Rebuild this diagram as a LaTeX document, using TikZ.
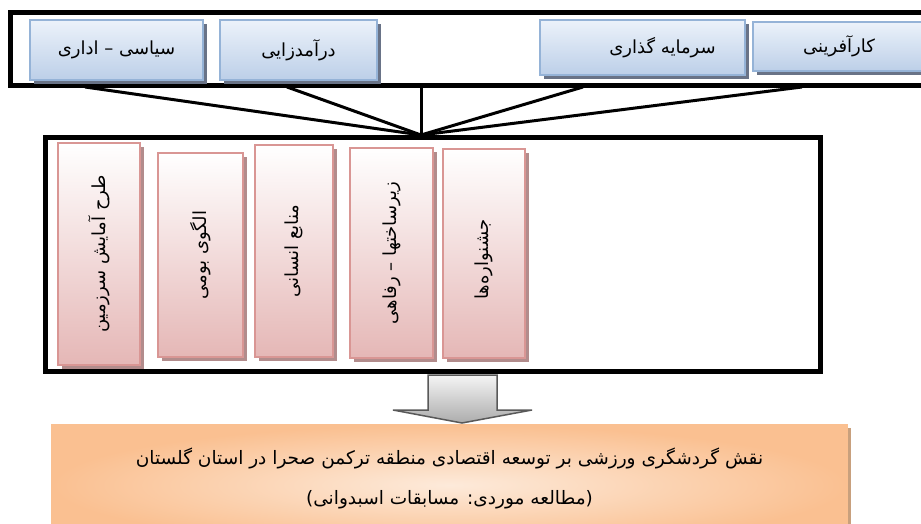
\documentclass[tikz,border=0pt]{standalone}
\usepackage{fontspec}
\newfontfamily\fa[Script=Arabic]{DejaVu Sans}
\TeXXeTstate=1
\usetikzlibrary{shadows}
\definecolor{blueedge}{RGB}{149,179,215}
\definecolor{bluetop}{RGB}{236,242,250}
\definecolor{bluebot}{RGB}{188,207,232}
\definecolor{blueshade}{RGB}{105,115,135}
\definecolor{pinkedge}{RGB}{217,150,148}
\definecolor{pinkbot}{RGB}{229,183,182}
\definecolor{pinkshade}{RGB}{178,140,140}
\definecolor{peach}{RGB}{250,192,145}
\definecolor{peachlight}{RGB}{253,234,218}
\definecolor{peachshade}{RGB}{200,160,125}
\tikzset{
  frame/.style={draw=black,line width=5pt},
  link/.style={draw=black,line width=3pt},
  bluebox/.style={draw=blueedge,line width=1.5pt,top color=bluetop,bottom color=bluebot,
    drop shadow={shadow xshift=4pt,shadow yshift=-4pt,fill=blueshade,opacity=1},
    inner sep=0pt,font=\fa\fontsize{18}{21}\selectfont},
  pinkbox/.style={draw=pinkedge,line width=1.5pt,top color=white,bottom color=pinkbot,
    drop shadow={shadow xshift=4pt,shadow yshift=-4pt,fill=pinkshade,opacity=1},
    inner sep=0pt},
  vtext/.style={rotate=90,font=\fa\fontsize{18}{21}\selectfont},
  goalbox/.style={draw=peach,line width=1.5pt,inner color=peachlight,outer color=peach,
    drop shadow={shadow xshift=4pt,shadow yshift=-3pt,fill=peachshade,opacity=1},
    inner sep=0pt}
}
\begin{document}
\begin{tikzpicture}[x=1pt,y=-1pt]
  \useasboundingbox (0,0) rectangle (921,524);
  \fill[white] (0,0) rectangle (921,524);
  \draw[frame] (10.5,12.5) rectangle (935,85.5);
  \node[bluebox,minimum width=173pt,minimum height=60pt] (siasi) at (116.5,50) {\beginR سیاسی – اداری\endR};
  \node[bluebox,minimum width=157pt,minimum height=60pt] (daramad) at (298.5,50) {\beginR درآمدزایی\endR};
  \node[bluebox,minimum width=205pt,minimum height=55pt] (sarmaye) at (642.5,47.5) {\hspace{40pt}\beginR سرمایه گذاری\endR};
  \node[bluebox,minimum width=172pt,minimum height=49pt] (kar) at (839,46.5) {\beginR کارآفرینی\endR};
  \coordinate (hub) at (421,135);
  \coordinate (a) at (85,87);
  \coordinate (b) at (287,87);
  \coordinate (c) at (421,87);
  \coordinate (d) at (583,87);
  \coordinate (e) at (802,87);
  \begin{scope}[link]
    \draw (a) -- (hub);
    \draw (b) -- (hub);
    \draw (c) -- (hub);
    \draw (d) -- (hub);
    \draw (e) -- (hub);
  \end{scope}
  \draw[frame] (45.5,137.5) rectangle (820,371.5);
  \node[pinkbox,minimum width=82pt,minimum height=222pt] (p1) at (99,254) {};
  \node[pinkbox,minimum width=85pt,minimum height=204pt] (p2) at (200.5,255) {};
  \node[pinkbox,minimum width=78pt,minimum height=212pt] (p3) at (294,251) {};
  \node[pinkbox,minimum width=83pt,minimum height=210pt] (p4) at (391.5,253) {};
  \node[pinkbox,minimum width=82pt,minimum height=209pt] (p5) at (484,253.5) {};
  \node[vtext] (t1) at (p1) {\beginR طرح آمایش سرزمین\endR};
  \node[vtext] (t2) at (p2) {\beginR الگوی بومی\endR};
  \node[vtext] (t3) at (p3) {\beginR منابع انسانی\endR};
  \node[vtext] (t4) at (p4) {\beginR زیرساختها – رفاهی\endR};
  \node[vtext] (t5) at ([yshift=-6pt]p5) {\beginR جشنواره‌ها\endR};
  \shade[top color=gray!8,bottom color=gray!65,draw=gray!70!black,line width=1.5pt]
    (428,375) -- (497,375) -- (497,410) -- (532,410) -- (462,423)
    -- (393,410) -- (428,410) -- cycle;
  \node[goalbox,minimum width=795pt,minimum height=120pt] (goal) at (449.5,485) {};
  \node[font=\fa\fontsize{18.5}{40}\selectfont,align=center] (goaltext) at (449.5,478)
    {\beginR نقش گردشگری ورزشی بر توسعه اقتصادی منطقه ترکمن صحرا در  استان گلستان\endR\\
     \beginR (مطالعه موردی: مسابقات اسبدوانی)\endR};
\end{tikzpicture}
\end{document}
